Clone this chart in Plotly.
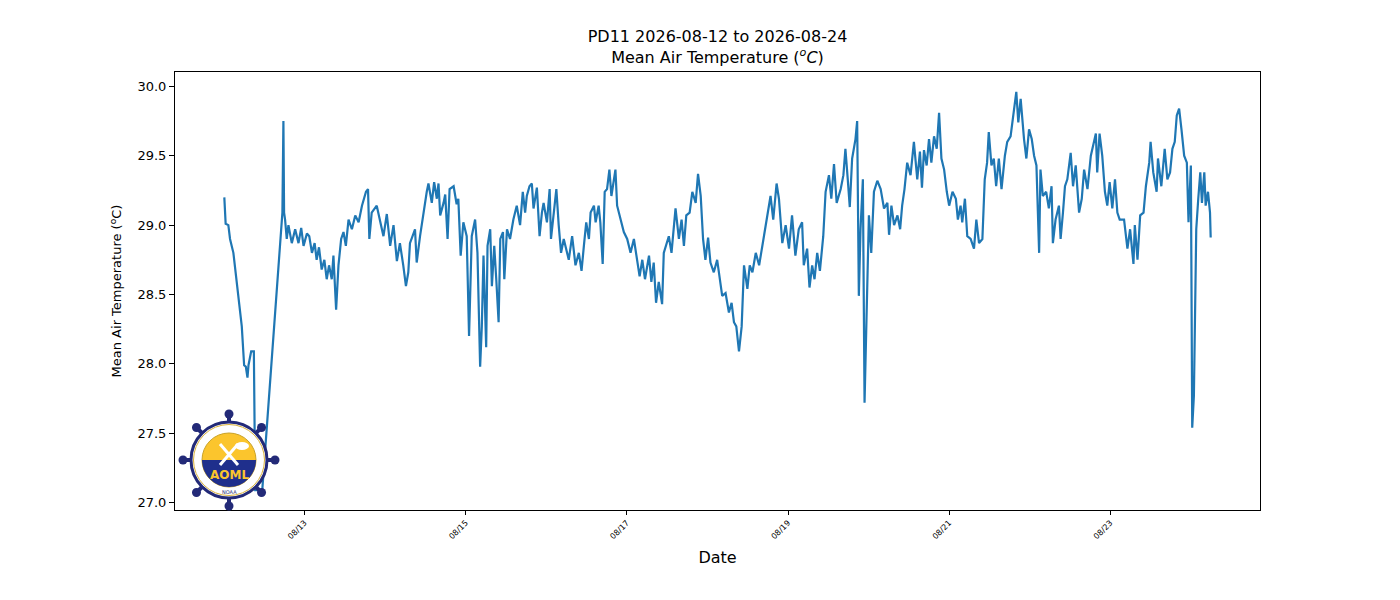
import pandas as pd
import plotly.graph_objects as go

# ---------------- data ----------------
start_time = "2026-08-12 00:00"

hours = [
    0.1, 0.5, 1.3, 1.8, 2.8, 3.3, 4.3, 5.3, 6.0, 6.5, 7.0, 7.3, 8.1, 8.9, 9.3, 11.4,
    17.4, 17.7, 17.9, 18.2, 18.7, 19.2, 20.2, 21.2, 22.2, 23.0, 23.7, 24.7, 25.4, 26.2,
    27.0, 27.6, 28.3, 29.1, 29.9, 30.6, 31.3, 32.1, 32.6, 33.4, 34.1, 34.9, 35.6, 36.3,
    37.1, 38.1, 39.1, 40.1, 41.1, 41.6, 42.3, 42.9, 43.3, 44.0,
    45.5, 47.5, 48.5, 49.5, 50.5, 51.5, 52.4, 53.4, 54.2, 54.9, 55.4, 56.9, 57.4, 58.4,
    59.4, 60.4, 60.9, 61.9, 62.6, 63.4, 63.9, 64.4, 65.4, 65.9, 66.6, 67.2, 68.4, 69.3,
    69.8, 70.5, 71.3, 72.3, 73.0, 73.8, 74.8, 75.5, 76.3, 76.8, 77.3, 78.1, 78.5, 79.3,
    79.8, 80.5, 81.1, 81.8, 82.3, 83.1, 83.5, 84.3, 85.2, 86.2, 87.2, 88.2, 89.0, 89.7,
    90.2, 91.0, 91.7, 92.2, 93.2, 94.0, 94.7, 95.2, 96.2, 97.0, 97.4, 98.2, 99.0, 99.7,
    100.4, 101.2,
    102.7, 103.7, 104.7, 105.7, 106.5, 107.2, 107.9, 108.7, 109.2, 110.2, 110.7, 111.6,
    112.1, 112.8, 113.4, 114.1, 114.8, 115.4, 116.1, 116.6, 117.1, 118.1, 119.1, 120.1,
    121.1, 122.1, 123.1, 123.8, 124.6, 125.4, 126.6, 127.3, 128.0, 128.7, 129.5, 130.5,
    131.0, 131.7, 132.5, 133.3, 134.0, 134.5, 135.5, 136.3, 137.0, 137.7, 138.7, 139.5,
    140.5, 141.2, 142.0, 142.7, 143.4, 144.2, 144.9, 145.9, 146.9, 147.6, 148.4, 149.4,
    150.4, 151.2, 151.9, 152.6, 153.4, 154.2, 154.9, 155.9, 156.6, 157.4, 158.4, 159.4,
    160.8, 161.8, 162.8, 163.6, 164.6, 165.3, 166.3, 167.3, 168.3, 169.2, 170.2, 171.2,
    172.2, 172.7, 173.7, 174.4, 175.2, 175.9, 176.7, 177.5, 178.5, 179.2, 180.2, 180.9,
    181.7, 182.5, 183.7, 184.5, 185.1, 185.8, 186.4, 187.1, 188.1, 188.6, 189.1, 189.6,
    190.3, 190.8, 191.4, 192.1, 192.8, 193.6, 194.6, 195.6, 196.6, 197.6, 198.1, 198.8,
    199.6, 200.6, 201.4, 202.0, 202.7, 203.5, 204.5, 205.5, 206.5, 207.3, 207.9, 208.5,
    209.3, 210.0, 210.7, 211.5, 212.3, 213.0, 213.7, 214.5, 215.3, 216.0, 217.0, 218.0,
    218.6, 219.4,
    219.9, 220.7, 221.4, 222.4, 223.4, 224.1, 224.9, 225.9, 226.6, 227.3, 227.8, 228.6,
    229.3, 230.0, 230.8, 231.6, 232.6, 233.3, 234.3, 235.3, 236.0, 236.6, 237.3, 238.3,
    239.0, 239.8, 240.6, 241.3, 242.0, 242.8, 243.2, 243.9, 244.9, 245.7, 246.5, 246.9,
    247.7, 248.7, 249.2, 249.9, 250.5, 251.2, 252.2, 252.9, 253.7, 254.7, 255.5, 256.2,
    257.2, 258.2, 258.9, 259.7, 260.1, 260.8, 261.6, 262.4, 263.1, 263.8, 264.6, 265.4,
    266.1, 266.8,
    268.1, 269.1, 269.9, 270.9, 271.3, 272.1, 272.9, 273.9, 274.6, 275.6, 276.0, 276.8,
    277.8, 278.2, 279.2, 280.2, 281.0, 281.8, 282.5, 283.2, 283.8, 284.5, 285.2, 286.0,
    286.8, 287.3, 288.0, 288.4, 288.9, 289.2, 289.6, 290.2, 290.8, 291.3, 292.0, 292.4,
    293.1, 293.7, 293.9,
]

temps = [
    29.20, 29.01, 29.00, 28.90, 28.80, 28.69, 28.50, 28.27, 27.99, 27.98, 27.90, 27.99, 28.09, 28.09, 27.09, 27.09,
    29.09, 29.75, 29.09, 29.04, 28.90, 29.00, 28.87, 28.97, 28.87, 28.98, 28.85, 28.94, 28.92, 28.80,
    28.87, 28.75, 28.84, 28.68, 28.75, 28.61, 28.71, 28.61, 28.78, 28.39, 28.71, 28.90, 28.95, 28.85,
    29.04, 28.97, 29.07, 29.02, 29.14, 29.19, 29.24, 29.26, 28.90, 29.09,
    29.14, 28.92, 29.08, 28.85, 29.00, 28.74, 28.87, 28.71, 28.56, 28.66, 28.87, 28.97, 28.73, 28.92,
    29.09, 29.24, 29.30, 29.16, 29.31, 29.19, 29.30, 29.07, 29.16, 29.22, 28.90, 29.26, 29.28, 29.15,
    29.19, 28.78, 29.02, 28.92, 28.20, 28.92, 29.04, 28.80, 27.98, 28.27, 28.78, 28.12, 28.85, 28.97,
    28.56, 28.85, 28.61, 28.30, 28.90, 28.95, 28.61, 28.97, 28.90, 29.04, 29.14, 29.00, 29.24, 29.09,
    29.21, 29.28, 29.30, 29.12, 29.27, 28.92, 29.09, 29.16, 29.02, 29.26, 28.90, 29.09, 29.26, 29.00,
    28.80, 28.90,
    28.75, 28.92, 28.71, 28.80, 28.67, 28.85, 29.02, 28.90, 29.09, 29.14, 29.02, 29.14,
    29.02, 28.72, 29.24, 29.26, 29.40, 29.21, 29.33, 29.40, 29.14, 29.04, 28.95, 28.90,
    28.80, 28.90, 28.75, 28.63, 28.75, 28.61, 28.78, 28.59, 28.73, 28.44, 28.59, 28.43,
    28.80, 28.85, 28.92, 28.80, 29.00, 29.12, 28.90, 29.04, 28.85, 29.07, 29.09, 29.24,
    29.16, 29.37, 29.21, 28.90, 28.75, 28.91, 28.73, 28.66, 28.75, 28.61, 28.49, 28.51,
    28.37, 28.44, 28.30, 28.27, 28.09, 28.27, 28.71, 28.54, 28.71, 28.66, 28.80, 28.71,
    28.92, 29.04, 29.21, 29.04, 29.30, 29.19, 28.87, 29.00, 28.83, 29.07, 28.78, 28.97,
    29.02, 28.71, 28.83, 28.55, 28.71, 28.61, 28.80, 28.67, 28.92, 29.24, 29.36, 29.19,
    29.44, 29.16, 29.26, 29.36, 29.55, 29.33, 29.13, 29.48, 29.62, 29.75, 28.49, 28.97,
    29.33, 27.72, 28.32, 29.07, 28.80, 29.24, 29.32, 29.26, 29.12, 29.16, 28.93, 29.14,
    29.00, 29.07, 28.97, 29.14, 29.26, 29.45, 29.36, 29.60, 29.33, 29.53, 29.27, 29.54,
    29.43, 29.62, 29.45, 29.64, 29.55, 29.81, 29.48, 29.40, 29.24, 29.14, 29.24, 29.19,
    29.04, 29.14,
    29.02, 29.19, 28.92, 28.90, 28.83, 29.04, 28.87, 28.90, 29.33, 29.45, 29.67, 29.43,
    29.48, 29.28, 29.48, 29.26, 29.50, 29.60, 29.64, 29.81, 29.96, 29.74, 29.91, 29.62,
    29.48, 29.69, 29.62, 29.50, 29.43, 28.80, 29.40, 29.21, 29.24, 29.12, 29.28, 28.87,
    29.04, 29.14, 28.90, 29.09, 29.28, 29.33, 29.52, 29.28, 29.43, 29.09, 29.19, 29.40,
    29.26, 29.50, 29.57, 29.66, 29.38, 29.66, 29.50, 29.24, 29.14, 29.31, 29.12, 29.33,
    29.09, 29.04,
    29.04, 28.83, 28.97, 28.72, 29.00, 28.75, 29.07, 29.09, 29.28, 29.45, 29.60, 29.38,
    29.24, 29.48, 29.28, 29.55, 29.33, 29.38, 29.55, 29.60, 29.79, 29.84, 29.69, 29.50,
    29.45, 29.02, 29.43, 27.54, 27.77, 28.18, 28.97, 29.19, 29.38, 29.16, 29.38, 29.14,
    29.24, 29.09, 28.91,
]

tick_dates = ["2026-08-13", "2026-08-15", "2026-08-17", "2026-08-19", "2026-08-21", "2026-08-23"]
tick_labels = ["08/13", "08/15", "08/17", "08/19", "08/21", "08/23"]
y_ticks = [27.0, 27.5, 28.0, 28.5, 29.0, 29.5, 30.0]

# ---------------- build ----------------
t0 = pd.Timestamp(start_time)
times = t0 + pd.to_timedelta(hours, unit="h")

# matplotlib-like 5% autoscale margins
hmin, hmax = min(hours), max(hours)
hpad = 0.05 * (hmax - hmin)
x_range = [t0 + pd.Timedelta(hours=hmin - hpad), t0 + pd.Timedelta(hours=hmax + hpad)]
vmin, vmax = min(temps), max(temps)
vpad = 0.05 * (vmax - vmin)
y_range = [vmin - vpad, vmax + vpad]

fig = go.Figure()
fig.add_trace(go.Scatter(
    x=times, y=temps, mode="lines",
    line=dict(color="#1f77b4", width=2.2),
    hoverinfo="skip", showlegend=False,
))

FONT = "DejaVu Sans, Liberation Sans, sans-serif"
# the page body has an 8px default margin: margins below compensate for it
fig.update_layout(
    width=1400, height=600,
    margin=dict(l=167, r=148, t=64, b=98),
    paper_bgcolor="white", plot_bgcolor="white",
    font=dict(family=FONT, color="black"),
    title=dict(
        text="PD11 2026-08-12 to 2026-08-24<br>Mean Air Temperature (<i><sup>o</sup>C</i>)",
        x=0.5, xref="paper", xanchor="center",
        y=1 - 34 / 600, yanchor="middle",
        font=dict(size=16, family=FONT, color="black"),
    ),
    xaxis=dict(
        type="date", range=x_range,
        tickmode="array", tickvals=tick_dates, ticktext=tick_labels,
        tickangle=-45, tickfont=dict(size=8, family=FONT),
        ticks="outside", ticklen=4, tickcolor="black",
        showline=True, mirror=True, linecolor="black", linewidth=1,
        showgrid=False, zeroline=False,
        title=dict(text="Date", font=dict(size=16, family=FONT), standoff=11),
    ),
    yaxis=dict(
        range=y_range,
        tickmode="array", tickvals=y_ticks, ticktext=[f"{v:.1f}" for v in y_ticks],
        tickfont=dict(size=13, family=FONT),
        ticks="outside", ticklen=5, tickcolor="black",
        showline=True, mirror=True, linecolor="black", linewidth=1,
        showgrid=False, zeroline=False,
        title=dict(text="Mean Air Temperature (<sup>o</sup>C)", font=dict(size=13, family=FONT), standoff=12),
    ),
)

# ---------------- AOML-style logo (decoration) ----------------
NAVY = "#232a78"
BLUE = "#1f2f8c"
GOLD = "#fbc52d"
ax_, ay_ = (229 - 175) / 1085, (510 - 460) / 438
common = dict(xref="paper", yref="paper", xsizemode="pixel", ysizemode="pixel",
              xanchor=ax_, yanchor=ay_, layer="above")

c = 0.7071
dirs = [(1, 0), (c, c), (0, 1), (-c, c), (-1, 0), (-c, -c), (0, -1), (c, -c)]
shapes = []
for dx, dy in dirs:
    shapes.append(dict(type="line", x0=0, y0=0, x1=46 * dx, y1=46 * dy,
                       line=dict(color=NAVY, width=4), **common))
for dx, dy in dirs:
    r = 4.5
    cx, cy = 46 * dx, 46 * dy
    shapes.append(dict(type="circle", x0=cx - r, y0=cy - r, x1=cx + r, y1=cy + r,
                       fillcolor=NAVY, line=dict(color=NAVY, width=0), **common))
shapes.append(dict(type="circle", x0=-38, y0=-38, x1=38, y1=38,
                   fillcolor="white", line=dict(color=NAVY, width=3), **common))
shapes.append(dict(type="circle", x0=-35.5, y0=-35.5, x1=35.5, y1=35.5,
                   fillcolor="rgba(0,0,0,0)", line=dict(color="#d9b13a", width=1), **common))
shapes.append(dict(type="circle", x0=-27, y0=-27, x1=27, y1=27,
                   fillcolor=GOLD, line=dict(color="#c9a227", width=1), **common))
k = 14.9
shapes.append(dict(type="path",
                   path=f"M -27,0 C -27,{-k} {-k},-27 0,-27 C {k},-27 27,{-k} 27,0 Z",
                   fillcolor=BLUE, line=dict(color=BLUE, width=0), **common))
shapes.append(dict(type="line", x0=-9, y0=-5, x1=9, y1=16, line=dict(color="white", width=3), **common))
shapes.append(dict(type="line", x0=9, y0=-5, x1=-9, y1=16, line=dict(color="white", width=3), **common))
shapes.append(dict(type="circle", x0=6, y0=10, x1=20, y1=18,
                   fillcolor="white", line=dict(color="white", width=0), **common))
fig.update_layout(shapes=shapes)
fig.add_annotation(text="<b>AOML</b>", x=ax_, y=(510 - 475) / 438, xref="paper", yref="paper",
                   showarrow=False, font=dict(size=12, color=GOLD, family=FONT),
                   xanchor="center", yanchor="middle")
fig.add_annotation(text="NOAA", x=ax_, y=(510 - 492) / 438, xref="paper", yref="paper",
                   showarrow=False, font=dict(size=5, color=NAVY, family=FONT),
                   xanchor="center", yanchor="middle")

fig.write_html("out.html")
